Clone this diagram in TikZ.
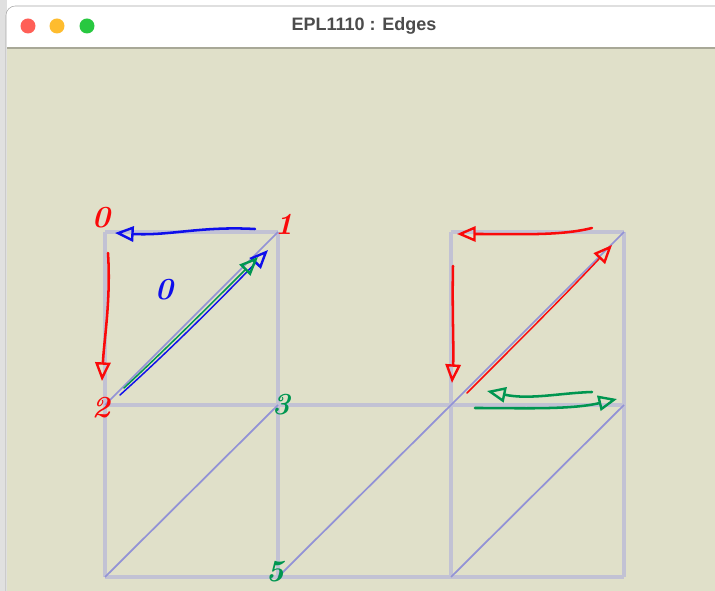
\documentclass[tikz,border=0pt]{standalone}
\usepackage{fontspec}
\usepackage{tikz}
\usetikzlibrary{arrows.meta}
\newfontfamily\titlefont{Liberation Sans}
\definecolor{bgbeige}{RGB}{224,224,201}
\definecolor{meshgray}{RGB}{194,194,212}
\definecolor{meshblue}{RGB}{146,146,214}
\definecolor{penred}{RGB}{250,10,10}
\definecolor{penblue}{RGB}{15,15,235}
\definecolor{pengreen}{RGB}{0,150,80}
\tikzset{
  meshedge/.style={meshgray, line width=2.4pt},
  meshdiag/.style={meshblue, line width=1.3pt},
  pen/.style={line width=1.9pt, line cap=round, line join=round, ->},
  thinpen/.style={line width=1.1pt, line cap=round, line join=round, ->},
  digit/.style={font=\fontsize{23}{23}\selectfont\bfseries\itshape, inner sep=0pt}
}
\begin{document}
\begin{tikzpicture}[x=0.75pt, y=-0.75pt,
    >={Triangle[open, length=14pt, width=11.5pt, line width=1.8pt]}]
    \useasboundingbox (0,0) rectangle (715,591);
    \clip (0,0) rectangle (715,591);

    % window frame
    \fill[white] (0,0) rectangle (715,591);
    \fill[black!12] (0,0) rectangle (7,591);
    \draw[black!35, fill=white, rounded corners=7pt] (6,6) rectangle (740,640);
    \fill[bgbeige] (7,48) rectangle (740,640);
    \draw[black!25!bgbeige, line width=1pt] (7,48) -- (715,48);
    \foreach \x/\c in {28/{255,95,87}, 57/{254,188,46}, 87/{40,200,64}}{
        \definecolor{dot}{RGB}{\c}
        \fill[dot] (\x,26) circle (7.5);
    }
    \node[font=\titlefont\bfseries\fontsize{13.5}{13.5}\selectfont, text=black!70] (title) at (364,26) {EPL1110 : Edges};

    % mesh vertices
    \coordinate (n0) at (105,232);
    \coordinate (n1) at (278,232);
    \coordinate (n2) at (105,405);
    \coordinate (n3) at (278,405);
    \coordinate (n4) at (105,577);
    \coordinate (n5) at (278,577);
    \coordinate (n6) at (451,405);
    \coordinate (n7) at (451,577);
    \coordinate (n8) at (451,232);
    \coordinate (n9) at (624,232);
    \coordinate (n10) at (624,405);
    \coordinate (n11) at (624,577);

    % mesh edges
    \foreach \a/\b in {n0/n1, n8/n9, n2/n10, n4/n11, n0/n4, n1/n5, n8/n7, n9/n11}{
        \draw[meshedge] (\a) -- (\b);
    }
    \foreach \a/\b in {n2/n1, n4/n3, n5/n6, n7/n10, n6/n9}{
        \draw[meshdiag] (\a) -- (\b);
    }

    % handwritten numbers
    \node[digit, penred] (l0) at (101,218) {0};
    \node[digit, penred] (l1) at (284,224) {1};
    \node[digit, penred] (l2) at (101,408) {2};
    \node[digit, pengreen] (l3) at (281,405) {3};
    \node[digit, pengreen] (l5) at (275,572) {5};
    \node[digit, penblue] (t0) at (164,290) {0};

    % arrow ends, left square
    \coordinate (a1) at (255,229);
    \coordinate (a2) at (115,233);
    \coordinate (b1) at (108,253);
    \coordinate (b2) at (102,381);
    \coordinate (c1) at (120,395);
    \coordinate (c2) at (268,250);
    \coordinate (d1) at (124,388);
    \coordinate (d2) at (258,257);

    \draw[pen, penblue] (a1) .. controls (200,226) and (170,236) .. (a2);
    \draw[pen, penred] (b1) .. controls (111,300) and (104,340) .. (b2);
    \draw[thinpen, penblue] (c1) .. controls (170,350) and (220,300) .. (c2);
    \draw[thinpen, pengreen] (d1) .. controls (170,345) and (215,300) .. (d2);

    % arrow ends, right square
    \coordinate (e1) at (592,228);
    \coordinate (e2) at (457,234);
    \coordinate (f1) at (453,266);
    \coordinate (f2) at (452,383);
    \coordinate (g1) at (467,393);
    \coordinate (g2) at (612,245);
    \coordinate (h1) at (592,392);
    \coordinate (h2) at (487,391);
    \coordinate (k1) at (475,408);
    \coordinate (k2) at (617,399);

    \draw[pen, penred] (e1) .. controls (560,236) and (520,234) .. (e2);
    \draw[pen, penred] (f1) .. controls (452,310) and (454,350) .. (f2);
    \draw[thinpen, penred] (g1) .. controls (520,340) and (570,290) .. (g2);
    \draw[pen, pengreen] (h1) .. controls (560,393) and (530,400) .. (h2);
    \draw[pen, pengreen] (k1) .. controls (520,408) and (570,410) .. (k2);
\end{tikzpicture}
\end{document}
